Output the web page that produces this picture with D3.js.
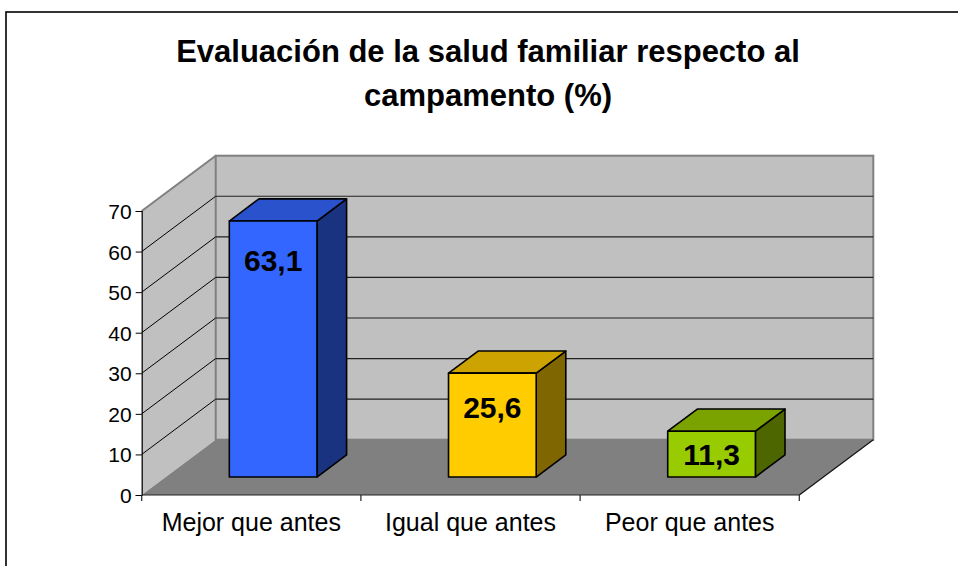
<!DOCTYPE html>
<html>
<head>
<meta charset="utf-8">
<script src="https://cdn.jsdelivr.net/npm/d3@7"></script>
<style>
  html, body { margin: 0; padding: 0; background: #fff; }
  svg { display: block; font-family: "Liberation Sans", Arial, sans-serif; }
</style>
</head>
<body>
<svg id="chart" width="958" height="566"></svg>
<script>
// ---- data ----
const categories = ["Mejor que antes", "Igual que antes", "Peor que antes"];
const values = [63.1, 25.6, 11.3];
const valueLabels = ["63,1", "25,6", "11,3"];
const yTicks = [0, 10, 20, 30, 40, 50, 60, 70];
const titleLines = ["Evaluación de la salud familiar respecto al", "campamento (%)"];
const frontColors = ["#3366FF", "#FFCC00", "#99CC00"];

// ---- layout ----
const svg = d3.select("#chart");
const W = 958, H = 566;
const DX = 74, DY = -55.3;          // depth of the 3D box (floor depth)
const barF = 0.325, barB = 0.725;   // depth fractions of bar front / back planes

const x = d3.scaleBand().domain(categories).range([141.7, 799.3]);
const y = d3.scaleLinear().domain([0, 70]).range([495, 211]);

// frame
svg.append("rect").attr("x", 6).attr("y", 12).attr("width", W + 20).attr("height", H + 20)
  .attr("fill", "#fff").attr("stroke", "#000").attr("stroke-width", 1.6);

const x0 = x.range()[0], x1 = x.range()[1];
const yb = y(0), yt = y(70);

// left wall
svg.append("polygon")
  .attr("points", [[x0, yb], [x0, yt], [x0 + DX, yt + DY], [x0 + DX, yb + DY]].join(" "))
  .attr("fill", "#C0C0C0").attr("stroke", "none");
// back wall
svg.append("rect")
  .attr("x", x0 + DX).attr("y", yt + DY).attr("width", x1 - x0).attr("height", yb - yt)
  .attr("fill", "#C0C0C0").attr("stroke", "#808080").attr("stroke-width", 2);
// left wall top edge
svg.append("line").attr("x1", x0).attr("y1", yt).attr("x2", x0 + DX).attr("y2", yt + DY)
  .attr("stroke", "#808080").attr("stroke-width", 2);
// floor
svg.append("polygon")
  .attr("points", [[x0, yb], [x1, yb], [x1 + DX, yb + DY], [x0 + DX, yb + DY]].join(" "))
  .attr("fill", "#808080").attr("stroke", "none");
// floor right edge
svg.append("line").attr("x1", x1).attr("y1", yb).attr("x2", x1 + DX).attr("y2", yb + DY)
  .attr("stroke", "#111").attr("stroke-width", 1.2);

// gridlines
const grid = yTicks.filter(v => v > 0 && v < 70);
svg.append("g").selectAll("line.lw").data(grid).join("line")
  .attr("x1", x0).attr("y1", d => y(d)).attr("x2", x0 + DX).attr("y2", d => y(d) + DY)
  .attr("stroke", "#000").attr("stroke-width", 1);
svg.append("g").selectAll("line.bw").data(grid).join("line")
  .attr("x1", x0 + DX).attr("y1", d => y(d) + DY).attr("x2", x1 + DX).attr("y2", d => y(d) + DY)
  .attr("stroke", "#222").attr("stroke-width", 1.2);

// y axis
const yAxis = d3.axisLeft(y).tickValues(yTicks).tickSize(6).tickPadding(4).tickFormat(d3.format("d"));
const gy = svg.append("g").attr("transform", `translate(${x0},0)`).call(yAxis);
gy.select(".domain").attr("stroke", "#000").attr("stroke-width", 1.2);
gy.selectAll(".tick line").attr("stroke", "#000");
gy.selectAll(".tick text").attr("font-size", 21).attr("fill", "#000")
  .attr("font-family", "Liberation Sans, Arial, sans-serif").attr("dy", "0.36em");

// x axis
const xAxis = d3.axisBottom(x).tickSize(0).tickPadding(0);
const gx = svg.append("g").attr("transform", `translate(0,${yb})`).call(xAxis);
gx.select(".domain").remove();
gx.append("line").attr("x1", x0).attr("x2", x1).attr("y1", 0).attr("y2", 0)
  .attr("stroke", "#222").attr("stroke-width", 1.2);
const bounds = categories.map(c => x(c)).concat([x1]);
gx.selectAll("line.xt").data(bounds).join("line").attr("class", "xt")
  .attr("x1", d => d).attr("x2", d => d).attr("y1", 0).attr("y2", 6)
  .attr("stroke", "#222").attr("stroke-width", 1.2);
gx.selectAll(".tick text").attr("font-size", 25).attr("fill", "#000")
  .attr("font-family", "Liberation Sans, Arial, sans-serif")
  .attr("dy", null).attr("y", 36);

// bars
const bw = x.bandwidth();
const barW = bw * 0.40, barOff = bw * 0.29;
const bars = svg.append("g");
categories.forEach((c, i) => {
  const v = values[i];
  const fx = x(c) + barOff + DX * barF;
  const fy0 = y(0) + DY * barF;
  const fy1 = y(v) + DY * barF;
  const ddx = DX * (barB - barF), ddy = DY * (barB - barF);
  const base = d3.color(frontColors[i]);
  const top = d3.rgb(base.r * 0.8, base.g * 0.8, base.b * 0.8);
  const side = d3.rgb(base.r * 0.5, base.g * 0.5, base.b * 0.5);
  const g = bars.append("g").attr("stroke", "#000").attr("stroke-width", 1.6).attr("stroke-linejoin", "round");
  // side
  g.append("polygon").attr("points", [[fx + barW, fy1], [fx + barW + ddx, fy1 + ddy], [fx + barW + ddx, fy0 + ddy], [fx + barW, fy0]].join(" "))
    .attr("fill", side);
  // top
  g.append("polygon").attr("points", [[fx, fy1], [fx + ddx, fy1 + ddy], [fx + barW + ddx, fy1 + ddy], [fx + barW, fy1]].join(" "))
    .attr("fill", top);
  // front
  g.append("rect").attr("x", fx).attr("y", fy1).attr("width", barW).attr("height", fy0 - fy1)
    .attr("fill", base);
  // value label
  const h = fy0 - fy1;
  const cy = fy1 + Math.min(h / 2, 30 + 0.035 * h);
  bars.append("text").attr("x", fx + barW / 2).attr("y", cy + 10.8)
    .attr("text-anchor", "middle").attr("font-size", 30).attr("font-weight", "bold")
    .attr("fill", "#000").text(valueLabels[i]);
});

// title
svg.append("g").selectAll("text").data(titleLines).join("text")
  .attr("x", 488).attr("y", (d, i) => 62 + i * 44)
  .attr("text-anchor", "middle").attr("font-size", 31).attr("font-weight", "bold")
  .attr("fill", "#000").text(d => d);
</script>
</body>
</html>
